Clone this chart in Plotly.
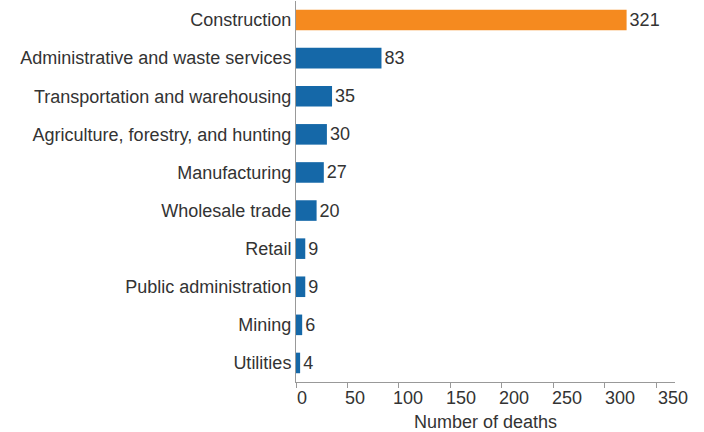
import plotly.graph_objects as go

industries = [
    "Construction",
    "Administrative and waste services",
    "Transportation and warehousing",
    "Agriculture, forestry, and hunting",
    "Manufacturing",
    "Wholesale trade",
    "Retail",
    "Public administration",
    "Mining",
    "Utilities",
]
deaths = [321, 83, 35, 30, 27, 20, 9, 9, 6, 4]
highlight = "Construction"
x_ticks = [0, 50, 100, 150, 200, 250, 300, 350]

ORANGE = "#F58A1F"
BLUE = "#1568A8"
colors = [ORANGE if name == highlight else BLUE for name in industries]

font_family = "Liberation Sans, Arial, sans-serif"
FS = 18
TXT = "#333333"
AXIS = "#999999"

fig = go.Figure(
    go.Bar(
        x=deaths,
        y=industries,
        orientation="h",
        marker=dict(color=colors, line=dict(width=0)),
        width=0.54,
        text=[str(v) for v in deaths],
        textposition="outside",
        textfont=dict(size=FS, color=TXT, family=font_family),
        cliponaxis=False,
    )
)
# empty trace so the label axis gets drawn
fig.add_trace(go.Scatter(x=[], y=[], xaxis="x2", yaxis="y", showlegend=False, hoverinfo="skip"))

fig.update_layout(
    width=704,
    height=432,
    margin=dict(l=296, r=29, t=1, b=50),
    plot_bgcolor="white",
    paper_bgcolor="white",
    showlegend=False,
    font=dict(family=font_family, size=FS, color=TXT),
    # value axis: line and tick marks
    xaxis=dict(
        range=[0, 368],
        tickvals=x_ticks,
        showticklabels=False,
        showgrid=False,
        zeroline=False,
        showline=True,
        linecolor=AXIS,
        linewidth=1,
        ticks="outside",
        ticklen=5,
        tickcolor=AXIS,
    ),
    # companion axis carrying the tick labels and the title
    xaxis2=dict(
        overlaying="x",
        anchor="y",
        side="bottom",
        range=[-5.7, 351.9],
        tickvals=x_ticks,
        showgrid=False,
        zeroline=False,
        showline=False,
        ticks="",
        ticklabelstandoff=3,
        tickfont=dict(size=FS, color=TXT),
        title=dict(text="Number of deaths", font=dict(size=FS, color=TXT), standoff=8),
    ),
    yaxis=dict(
        categoryorder="array",
        categoryarray=industries[::-1],
        range=[-0.5, 9.5],
        showgrid=False,
        zeroline=False,
        showline=True,
        linecolor=AXIS,
        linewidth=1,
        ticks="",
        ticklabelstandoff=0,
        tickfont=dict(size=FS, color=TXT),
    ),
)

fig.write_html("out.html")
